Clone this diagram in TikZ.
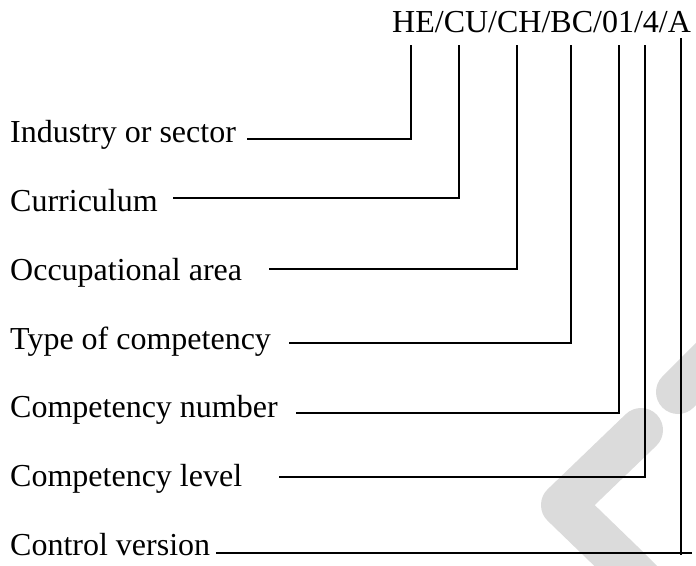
\documentclass[tikz,border=0pt]{standalone}
\usepackage{fontspec}
\setmainfont{Liberation Serif}
\begin{document}
\begin{tikzpicture}[x=1pt,y=-1pt,
  lbl/.style={anchor=base west, inner sep=0pt, font=\fontsize{32}{38}\selectfont},
  conn/.style={line width=2.6pt, line join=miter},
  wm/.style={draw=black!14, line width=44pt, line cap=round, line join=round}]
\useasboundingbox (0,0) rectangle (696,565);
% watermark
\draw[wm] (641,430) -- (563,505) -- (625,565) -- (655,595);
\draw[wm] (678,392) -- (740,330);
% code
\node[lbl] (code) at (392,32) {HE/CU/CH/BC/01/4/A};
% labels
\node[lbl] (ind) at (10,142) {Industry or sector};
\node[lbl] (cur) at (10,211) {Curriculum};
\node[lbl] (occ) at (10,280) {Occupational area};
\node[lbl] (typ) at (10,349) {Type of competency};
\node[lbl] (num) at (10,417) {Competency number};
\node[lbl] (lev) at (10,486) {Competency level};
\node[lbl] (con) at (10,555) {Control version};
% tops of verticals under the code
\coordinate (t1) at (411,45);
\coordinate (t2) at (459,45);
\coordinate (t3) at (517,45);
\coordinate (t4) at (571,45);
\coordinate (t5) at (619,45);
\coordinate (t6) at (645,45);
\coordinate (t7) at (681,38);
% starts of horizontal lines
\coordinate (s1) at (247,139);
\coordinate (s2) at (173,198);
\coordinate (s3) at (269,269);
\coordinate (s4) at (289,343);
\coordinate (s5) at (296,413);
\coordinate (s6) at (279,477);
\coordinate (s7) at (216,553);
\coordinate (e7) at (692,553);
\coordinate (b7) at (681,555);
% connectors
\draw[conn] (s1) -| (t1);
\draw[conn] (s2) -| (t2);
\draw[conn] (s3) -| (t3);
\draw[conn] (s4) -| (t4);
\draw[conn] (s5) -| (t5);
\draw[conn] (s6) -| (t6);
\draw[conn] (s7) -- (e7);
\draw[conn] (t7) -- (b7);
\end{tikzpicture}
\end{document}
